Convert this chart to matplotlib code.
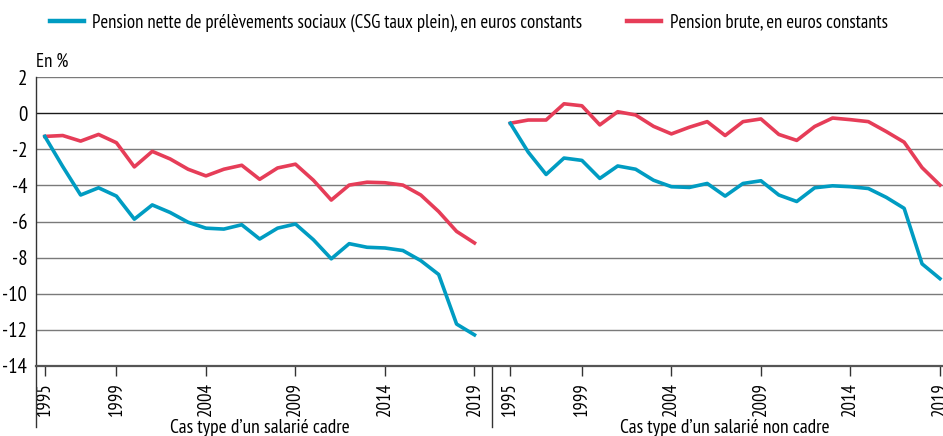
import matplotlib
matplotlib.use("Agg")
import matplotlib.pyplot as plt
from matplotlib.lines import Line2D

plt.rcParams["font.family"] = ["PT Sans Narrow", "Archivo Narrow", "DejaVu Sans"]

# -------------------------
# Data (en %, par rapport à la référence)
# -------------------------
years = list(range(1995, 2020))

cadre_nette = [-1.28, -2.95, -4.53, -4.13, -4.59, -5.87, -5.08, -5.50, -6.04, -6.37,
               -6.42, -6.18, -6.97, -6.37, -6.14, -7.01, -8.07, -7.23, -7.43, -7.47,
               -7.61, -8.17, -8.94, -11.69, -12.29]
cadre_brute = [-1.28, -1.23, -1.54, -1.17, -1.63, -2.97, -2.11, -2.53, -3.10, -3.47,
               -3.10, -2.88, -3.66, -3.03, -2.82, -3.71, -4.81, -3.98, -3.82, -3.85,
               -3.98, -4.53, -5.45, -6.55, -7.19]

noncadre_nette = [-0.55, -2.15, -3.39, -2.48, -2.61, -3.61, -2.92, -3.10, -3.71, -4.07,
                  -4.11, -3.89, -4.59, -3.89, -3.74, -4.53, -4.89, -4.13, -4.02, -4.07,
                  -4.17, -4.66, -5.27, -8.35, -9.17]
noncadre_brute = [-0.55, -0.37, -0.37, 0.53, 0.42, -0.64, 0.09, -0.09, -0.72, -1.14,
                  -0.77, -0.46, -1.23, -0.46, -0.31, -1.17, -1.50, -0.73, -0.26, -0.35,
                  -0.46, -1.01, -1.60, -3.01, -3.98]

shown_years = [1995, 1999, 2004, 2009, 2014, 2019]
groups = ["Cas type d\u2019un salari\u00e9 cadre", "Cas type d\u2019un salari\u00e9 non cadre"]
labels = ["Pension nette de pr\u00e9l\u00e8vements sociaux (CSG taux plein), en euros constants",
          "Pension brute, en euros constants"]

BLUE = "#009cc2"
RED = "#e63d58"


def main():
    fig = plt.figure(figsize=(9.43, 4.36), dpi=100)
    W, H = 943, 436
    left, right, top, bottom = 35.7, 943, 77.3, 365.7
    ax = fig.add_axes([left / W, 1 - bottom / H, (right - left) / W, (bottom - top) / H])

    # categorical positions: group 1 at 0..24, blank slot at 25, group 2 at 26..50
    n = len(years)
    x1 = list(range(n))
    x2 = [i + n + 1 for i in range(n)]

    ax.plot(x1, cadre_brute, color=RED, lw=2.6, zorder=3)
    ax.plot(x1, cadre_nette, color=BLUE, lw=2.6, zorder=4)
    ax.plot(x2, noncadre_brute, color=RED, lw=2.6, zorder=3)
    ax.plot(x2, noncadre_nette, color=BLUE, lw=2.6, zorder=4)

    ax.set_xlim(-0.51, 50.17)
    ax.set_ylim(-14, 2)

    # -------------------------
    # Grid and axes
    # -------------------------
    for v in range(-12, 3, 2):
        ax.axhline(v, color="#1a1a1a" if v == 0 else "#7a7a7a", lw=1.0, zorder=1)

    for s in ["top", "right"]:
        ax.spines[s].set_visible(False)
    ax.spines["left"].set_color("#333333")
    ax.spines["left"].set_linewidth(1.0)
    ax.spines["bottom"].set_color("#555555")
    ax.spines["bottom"].set_linewidth(1.6)

    ax.set_yticks(range(-14, 3, 2))
    ax.set_yticklabels([str(v) for v in range(-14, 3, 2)])
    ax.tick_params(axis="y", length=0, pad=6, labelsize=15)

    tick_pos = [years.index(y) for y in shown_years] + [years.index(y) + n + 1 for y in shown_years]
    ax.set_xticks(tick_pos)
    ax.set_xticklabels([str(y) for y in shown_years] * 2, rotation=90)
    ax.tick_params(axis="x", length=7, width=1.0, color="#333333", pad=5, labelsize=13.5)

    # group separators below the axis
    trans = ax.get_xaxis_transform()
    ax.plot([-0.51, -0.51], [0, -0.212], color="#333333", lw=1.0, transform=trans, clip_on=False)
    ax.plot([25, 25], [0, -0.212], color="#333333", lw=1.0, transform=trans, clip_on=False)
    ax.text(12, -0.215, groups[0], transform=trans, ha="center", va="center", fontsize=14)
    ax.text(38, -0.215, groups[1], transform=trans, ha="center", va="center", fontsize=14)

    fig.text(36 / W, 1 - 62 / H, "En %", ha="left", va="center", fontsize=13.5)

    # -------------------------
    # Legend
    # -------------------------
    handles = [Line2D([], [], color=BLUE, lw=3.2), Line2D([], [], color=RED, lw=3.2)]
    fig.legend(handles, labels, loc="center left", bbox_to_anchor=(50 / W, 1 - 22.7 / H),
               ncol=2, frameon=False, fontsize=13.5, handlelength=1.8, handletextpad=0.45,
               columnspacing=2.4, borderaxespad=0, borderpad=0)

    fig.savefig("out.png", dpi=100)


if __name__ == "__main__":
    main()
